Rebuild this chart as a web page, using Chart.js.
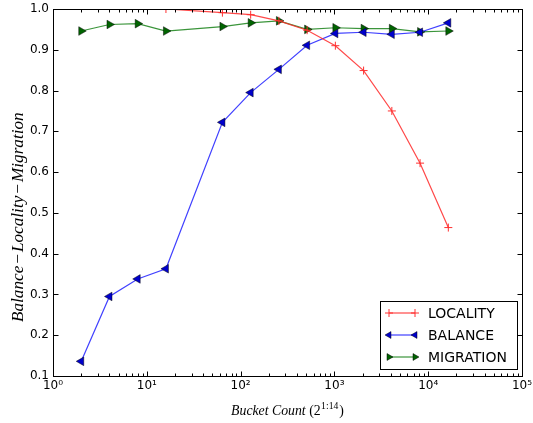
<!DOCTYPE html>
<html>
<head>
<meta charset="utf-8">
<script src="https://cdn.jsdelivr.net/npm/chart.js@4/dist/chart.umd.min.js"></script>
<style>
html, body { margin: 0; padding: 0; background: #fff; }
canvas { display: block; }
</style>
</head>
<body>
<canvas id="chart" width="533" height="423"></canvas>
<script>
const bucketCounts = [2, 4, 8, 16, 64, 128, 256, 512, 1024, 2048, 4096, 8192, 16384];
const locality  = [null, null, null, 1.0, 0.991, 0.986, 0.971, 0.948, 0.910, 0.849, 0.750, 0.622, 0.464];
const balance   = [0.136, 0.295, 0.338, 0.363, 0.722, 0.795, 0.852, 0.911, 0.940, 0.943, 0.938, 0.943, 0.966];
const migration = [0.946, 0.962, 0.964, 0.946, 0.957, 0.966, 0.971, 0.950, 0.954, 0.952, 0.952, 0.944, 0.946];
const seriesNames = ['LOCALITY', 'BALANCE', 'MIGRATION'];

const xTickValues = [1, 10, 100, 1000, 10000, 100000];
const xTickLabels = ['10⁰', '10¹', '10²', '10³', '10⁴', '10⁵'];
const yTickValues = [0.1, 0.2, 0.3, 0.4, 0.5, 0.6, 0.7, 0.8, 0.9, 1.0];
const yTickLabels = ['0.1', '0.2', '0.3', '0.4', '0.5', '0.6', '0.7', '0.8', '0.9', '1.0'];

const xTitleText = 'Bucket Count';
const xTitleBase = '(2';
const xTitleExp = '1:14';
const yTitleParts = ['Balance', '\u2212', 'Locality', '\u2212', 'Migration'];

const toPoints = vals => bucketCounts.map((x, i) => ({ x: x, y: vals[i] }));

const lineColors = ['rgba(255,40,40,0.85)', 'rgba(30,30,255,0.85)', 'rgba(25,130,25,0.85)'];
const markerFill = ['#ff0000', '#0000cc', '#006400'];

const datasets = [
    {
        label: seriesNames[0],
        data: toPoints(locality),
        borderColor: lineColors[0],
        borderWidth: 1.2,
        pointStyle: 'cross',
        pointRadius: 4,
        pointBorderColor: '#ff3030',
        pointBorderWidth: 1,
        tension: 0
    },
    {
        label: seriesNames[1],
        data: toPoints(balance),
        borderColor: lineColors[1],
        borderWidth: 1.2,
        pointStyle: 'triangle',
        rotation: -90,
        pointRadius: 5,
        pointBackgroundColor: markerFill[1],
        pointBorderColor: 'rgba(0,0,0,0.6)',
        pointBorderWidth: 0.8,
        tension: 0
    },
    {
        label: seriesNames[2],
        data: toPoints(migration),
        borderColor: lineColors[2],
        borderWidth: 1.2,
        pointStyle: 'triangle',
        rotation: 90,
        pointRadius: 5,
        pointBackgroundColor: markerFill[2],
        pointBorderColor: 'rgba(0,0,0,0.6)',
        pointBorderWidth: 0.8,
        tension: 0
    }
];

// frame, inward ticks, axis titles and legend in the matplotlib look
const mplDecor = {
    id: 'mplDecor',
    afterDraw(chart) {
        const ctx = chart.ctx;
        const area = chart.chartArea;
        const xs = chart.scales.x;
        const ys = chart.scales.y;
        const L = Math.round(area.left) + 0.5, R = Math.round(area.right) + 0.5;
        const T = Math.round(area.top) + 0.5, B = Math.round(area.bottom) + 0.5;

        ctx.save();
        ctx.strokeStyle = '#000';
        ctx.lineWidth = 1;

        // ticks
        ctx.beginPath();
        for (let d = 0; d < 5; d++) {
            for (let k = 1; k <= 9; k++) {
                const v = k * Math.pow(10, d);
                const px = Math.round(xs.getPixelForValue(v)) + 0.5;
                const len = k === 1 ? 5 : 3;
                ctx.moveTo(px, B); ctx.lineTo(px, B - len);
                ctx.moveTo(px, T); ctx.lineTo(px, T + len);
            }
        }
        yTickValues.forEach(v => {
            const py = Math.round(ys.getPixelForValue(v)) + 0.5;
            ctx.moveTo(L, py); ctx.lineTo(L + 5, py);
            ctx.moveTo(R, py); ctx.lineTo(R - 5, py);
        });
        ctx.stroke();

        // frame
        ctx.strokeRect(L, T, R - L, B - T);

        // x title, scaled to the reference width
        const xc = (area.left + area.right) / 2;
        let fs = 13;
        const pieces = () => {
            const fIt = `italic ${fs}px "Liberation Serif"`;
            const fUp = `${fs}px "Liberation Serif"`;
            const fSup = `${(fs * 0.7).toFixed(1)}px "Liberation Serif"`;
            ctx.font = fIt; const w1 = ctx.measureText(xTitleText + ' ').width;
            ctx.font = fUp; const w2 = ctx.measureText(xTitleBase).width;
            ctx.font = fSup; const w3 = ctx.measureText(xTitleExp).width + 1.5;
            ctx.font = fUp; const w4 = ctx.measureText(')').width;
            return { fIt, fUp, fSup, w1, w2, w3, w4, total: w1 + w2 + w3 + w4 };
        };
        let p = pieces();
        fs = fs * 113 / p.total;
        p = pieces();
        ctx.fillStyle = '#000';
        ctx.textBaseline = 'alphabetic';
        ctx.textAlign = 'left';
        let x0 = xc - p.total / 2;
        const by = 415;
        ctx.font = p.fIt; ctx.fillText(xTitleText + ' ', x0, by); x0 += p.w1;
        ctx.font = p.fUp; ctx.fillText(xTitleBase, x0, by); x0 += p.w2;
        ctx.font = p.fSup; ctx.fillText(xTitleExp, x0 + 0.5, by - fs * 0.4); x0 += p.w3;
        ctx.font = p.fUp; ctx.fillText(')', x0, by);

        // y title, rotated
        ctx.save();
        ctx.translate(18, 217);
        ctx.rotate(-Math.PI / 2);
        let ys2 = 14;
        const gap = 2;
        const measureY = () => yTitleParts.reduce((s, t, i) => {
            ctx.font = (i % 2 ? '' : 'italic ') + ys2 + 'px "Liberation Serif"';
            return s + ctx.measureText(t).width + (i % 2 ? 2 * gap : 0);
        }, 0);
        ys2 = ys2 * 212 / measureY();
        const tw = measureY();
        let yx = -tw / 2;
        ctx.textAlign = 'left';
        ctx.textBaseline = 'middle';
        yTitleParts.forEach((t, i) => {
            ctx.font = (i % 2 ? '' : 'italic ') + ys2.toFixed(1) + 'px "Liberation Serif"';
            if (i % 2) yx += gap;
            ctx.fillText(t, yx, 0);
            yx += ctx.measureText(t).width + (i % 2 ? gap : 0);
        });
        ctx.restore();

        // legend
        ctx.fillStyle = '#fff';
        ctx.fillRect(380.5, 301.5, 137, 68);
        ctx.strokeStyle = '#000';
        ctx.lineWidth = 1;
        ctx.strokeRect(380.5, 301.5, 137, 68);
        ctx.font = '14px "DejaVu Sans"';
        ctx.textAlign = 'left';
        ctx.textBaseline = 'middle';
        datasets.forEach((ds, i) => {
            const y = 313 + i * 22;
            ctx.strokeStyle = ds.borderColor;
            ctx.lineWidth = 1.2;
            ctx.beginPath();
            ctx.moveTo(389, y); ctx.lineTo(415, y);
            ctx.stroke();
            const opts = {
                pointStyle: ds.pointStyle,
                rotation: ds.rotation || 0,
                radius: 4,
                borderWidth: ds.pointBorderWidth
            };
            [389, 415].forEach(px => {
                ctx.fillStyle = ds.pointBackgroundColor || ds.pointBorderColor;
                ctx.strokeStyle = ds.pointBorderColor;
                ctx.lineWidth = ds.pointBorderWidth;
                Chart.helpers.drawPoint(ctx, opts, px, y);
            });
            ctx.fillStyle = '#000';
            ctx.fillText(ds.label, 428, y + 1);
        });
        ctx.restore();
    }
};

new Chart(document.getElementById('chart'), {
    type: 'line',
    data: { datasets: datasets },
    options: {
        responsive: false,
        animation: false,
        layout: { padding: { top: 9, right: 11, left: 0, bottom: 0 } },
        plugins: { legend: { display: false }, tooltip: { enabled: false } },
        scales: {
            x: {
                type: 'logarithmic',
                min: 1,
                max: 100000,
                grid: { display: false, drawTicks: false },
                border: { display: false },
                afterBuildTicks: scale => { scale.ticks = xTickValues.map(v => ({ value: v })); },
                afterFit: scale => {
                    scale.height = 47;
                    scale.paddingLeft = 0;
                    scale.paddingRight = 0;
                },
                ticks: {
                    autoSkip: false,
                    maxRotation: 0,
                    padding: 3,
                    color: '#000',
                    font: { family: '"DejaVu Sans"', size: 12 },
                    callback: (v, i) => xTickLabels[i]
                }
            },
            y: {
                type: 'linear',
                min: 0.1,
                max: 1.0,
                grid: { display: false, drawTicks: false },
                border: { display: false },
                afterBuildTicks: scale => { scale.ticks = yTickValues.map(v => ({ value: v })); },
                afterFit: scale => {
                    scale.width = 53;
                    scale.paddingTop = 0;
                    scale.paddingBottom = 0;
                },
                ticks: {
                    autoSkip: false,
                    padding: 4,
                    color: '#000',
                    font: { family: '"DejaVu Sans"', size: 12 },
                    callback: (v, i) => yTickLabels[i]
                }
            }
        }
    },
    plugins: [mplDecor]
});
</script>
</body>
</html>
